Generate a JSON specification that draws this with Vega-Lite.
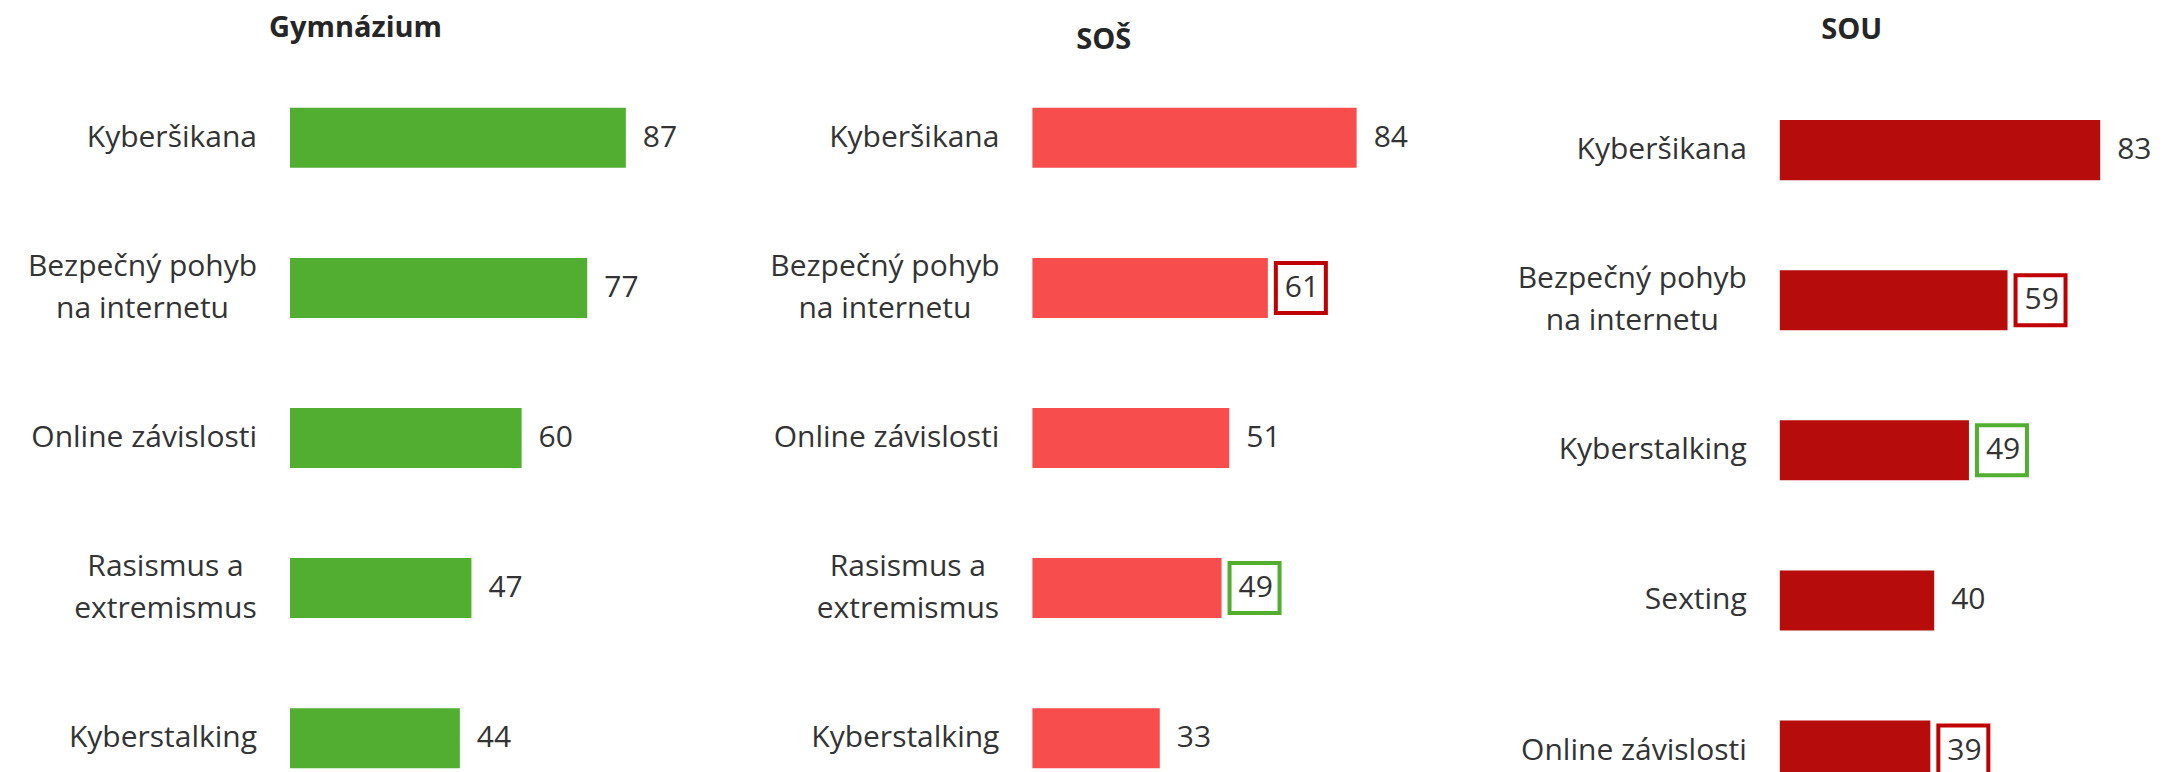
{
  "$schema": "https://vega.github.io/schema/vega-lite/v6.json",
  "background": "white",
  "padding": {"left": 27, "top": 13, "right": 0, "bottom": 0},
  "bounds": "flush",
  "spacing": 361.4,
  "config": {
    "view": {"stroke": null},
    "font": "Open Sans",
    "axisY": {
      "title": null, "ticks": false, "tickSize": 0, "domain": false, "grid": false,
      "labelFontSize": 30, "labelColor": "#333333", "labelLimit": 500, "labelLineHeight": 42,
      "labelExpr": "split(datum.label, '|')"
    }
  },
  "data": {
    "values": [
      {"school": "Gymnázium", "topic": "Kyberšikana", "value": 87, "box": null},
      {"school": "Gymnázium", "topic": "Bezpečný pohyb|na internetu", "value": 77, "box": null},
      {"school": "Gymnázium", "topic": "Online závislosti", "value": 60, "box": null},
      {"school": "Gymnázium", "topic": "Rasismus a|extremismus", "value": 47, "box": null},
      {"school": "Gymnázium", "topic": "Kyberstalking", "value": 44, "box": null},
      {"school": "SOŠ", "topic": "Kyberšikana", "value": 84, "box": null},
      {"school": "SOŠ", "topic": "Bezpečný pohyb|na internetu", "value": 61, "box": "red"},
      {"school": "SOŠ", "topic": "Online závislosti", "value": 51, "box": null},
      {"school": "SOŠ", "topic": "Rasismus a|extremismus", "value": 49, "box": "green"},
      {"school": "SOŠ", "topic": "Kyberstalking", "value": 33, "box": null},
      {"school": "SOU", "topic": "Kyberšikana", "value": 83, "box": null},
      {"school": "SOU", "topic": "Bezpečný pohyb|na internetu", "value": 59, "box": "red"},
      {"school": "SOU", "topic": "Kyberstalking", "value": 49, "box": "green"},
      {"school": "SOU", "topic": "Sexting", "value": 40, "box": null},
      {"school": "SOU", "topic": "Online závislosti", "value": 39, "box": "red"}
    ]
  },
  "hconcat": [
    {
      "width": 381,
      "height": 700,
      "title": {"text": "Gymnázium", "fontSize": 29, "fontWeight": "bold", "color": "#262626", "frame": "group", "anchor": "middle", "offset": 45.3, "dx": -125},
      "transform": [{"filter": "datum.school === 'Gymnázium'"}],
      "encoding": {
        "y": {"field": "topic", "type": "nominal",
          "scale": {"domain": ["Kyberšikana", "Bezpečný pohyb|na internetu", "Online závislosti", "Rasismus a|extremismus", "Kyberstalking"], "paddingInner": 0.6, "paddingOuter": 0.1318, "align": 0.5},
          "axis": {
            "labelAlign": {"condition": {"test": "indexof(datum.value, '|') >= 0", "value": "center"}, "value": "right"},
            "labelPadding": {"condition": [{"test": "datum.value === 'Bezpečný pohyb|na internetu'", "value": 148}, {"test": "datum.value === 'Rasismus a|extremismus'", "value": 125}], "value": 33.5},
            "labelOffset": {"condition": {"test": "indexof(datum.value, '|') >= 0", "value": -21}, "value": 0}
          }},
        "x": {"field": "value", "type": "quantitative", "scale": {"domain": [0, 98.7], "nice": false}, "axis": null}
      },
      "layer": [
        {"mark": {"type": "bar", "color": "#52AE30"}},
        {"mark": {"type": "text", "align": "left", "baseline": "middle", "dx": 17, "fontSize": 30, "color": "#333333"}, "encoding": {"text": {"field": "value", "type": "quantitative"}}}
      ]
    },
    {
      "width": 386,
      "height": 700,
      "title": {"text": "SOŠ", "fontSize": 29, "fontWeight": "bold", "color": "#262626", "frame": "group", "anchor": "middle", "offset": 32.7, "dx": -121.7},
      "transform": [{"filter": "datum.school === 'SOŠ'"}],
      "encoding": {
        "y": {"field": "topic", "type": "nominal",
          "scale": {"domain": ["Kyberšikana", "Bezpečný pohyb|na internetu", "Online závislosti", "Rasismus a|extremismus", "Kyberstalking"], "paddingInner": 0.6, "paddingOuter": 0.1318, "align": 0.5},
          "axis": {
            "labelAlign": {"condition": {"test": "indexof(datum.value, '|') >= 0", "value": "center"}, "value": "right"},
            "labelPadding": {"condition": [{"test": "datum.value === 'Bezpečný pohyb|na internetu'", "value": 148}, {"test": "datum.value === 'Rasismus a|extremismus'", "value": 125}], "value": 33.5},
            "labelOffset": {"condition": {"test": "indexof(datum.value, '|') >= 0", "value": -21}, "value": 0}
          }},
        "x": {"field": "value", "type": "quantitative", "scale": {"domain": [0, 100], "nice": false}, "axis": null}
      },
      "layer": [
        {"mark": {"type": "bar", "color": "#F74D4D"}},
        {"mark": {"type": "text", "align": "left", "baseline": "middle", "dx": 17, "fontSize": 30, "color": "#333333"}, "encoding": {"text": {"field": "value", "type": "quantitative"}}},
        {"transform": [{"filter": "datum.box != null"}], "mark": {"type": "point", "shape": "square", "size": 2500, "strokeWidth": 4, "filled": false, "opacity": 1, "xOffset": 33}, "encoding": {"color": {"field": "box", "type": "nominal", "scale": {"domain": ["red", "green"], "range": ["#C00000", "#52AE30"]}, "legend": null}}}
      ]
    },
    {
      "width": 386,
      "height": 700,
      "title": {"text": "SOU", "fontSize": 29, "fontWeight": "bold", "color": "#262626", "frame": "group", "anchor": "middle", "offset": 42.7, "dx": -121},
      "transform": [{"filter": "datum.school === 'SOU'"}],
      "encoding": {
        "y": {"field": "topic", "type": "nominal",
          "scale": {"domain": ["Kyberšikana", "Bezpečný pohyb|na internetu", "Kyberstalking", "Sexting", "Online závislosti"], "paddingInner": 0.6, "paddingOuter": 0.1318, "align": 0.811},
          "axis": {
            "labelAlign": {"condition": {"test": "indexof(datum.value, '|') >= 0", "value": "center"}, "value": "right"},
            "labelPadding": {"condition": [{"test": "datum.value === 'Bezpečný pohyb|na internetu'", "value": 148}, {"test": "datum.value === 'Rasismus a|extremismus'", "value": 125}], "value": 33.5},
            "labelOffset": {"condition": {"test": "indexof(datum.value, '|') >= 0", "value": -21}, "value": 0}
          }},
        "x": {"field": "value", "type": "quantitative", "scale": {"domain": [0, 100], "nice": false}, "axis": null}
      },
      "layer": [
        {"mark": {"type": "bar", "color": "#B60C0C"}},
        {"mark": {"type": "text", "align": "left", "baseline": "middle", "dx": 17, "fontSize": 30, "color": "#333333"}, "encoding": {"text": {"field": "value", "type": "quantitative"}}},
        {"transform": [{"filter": "datum.box != null"}], "mark": {"type": "point", "shape": "square", "size": 2500, "strokeWidth": 4, "filled": false, "opacity": 1, "xOffset": 33}, "encoding": {"color": {"field": "box", "type": "nominal", "scale": {"domain": ["red", "green"], "range": ["#C00000", "#52AE30"]}, "legend": null}}}
      ]
    }
  ]
}
